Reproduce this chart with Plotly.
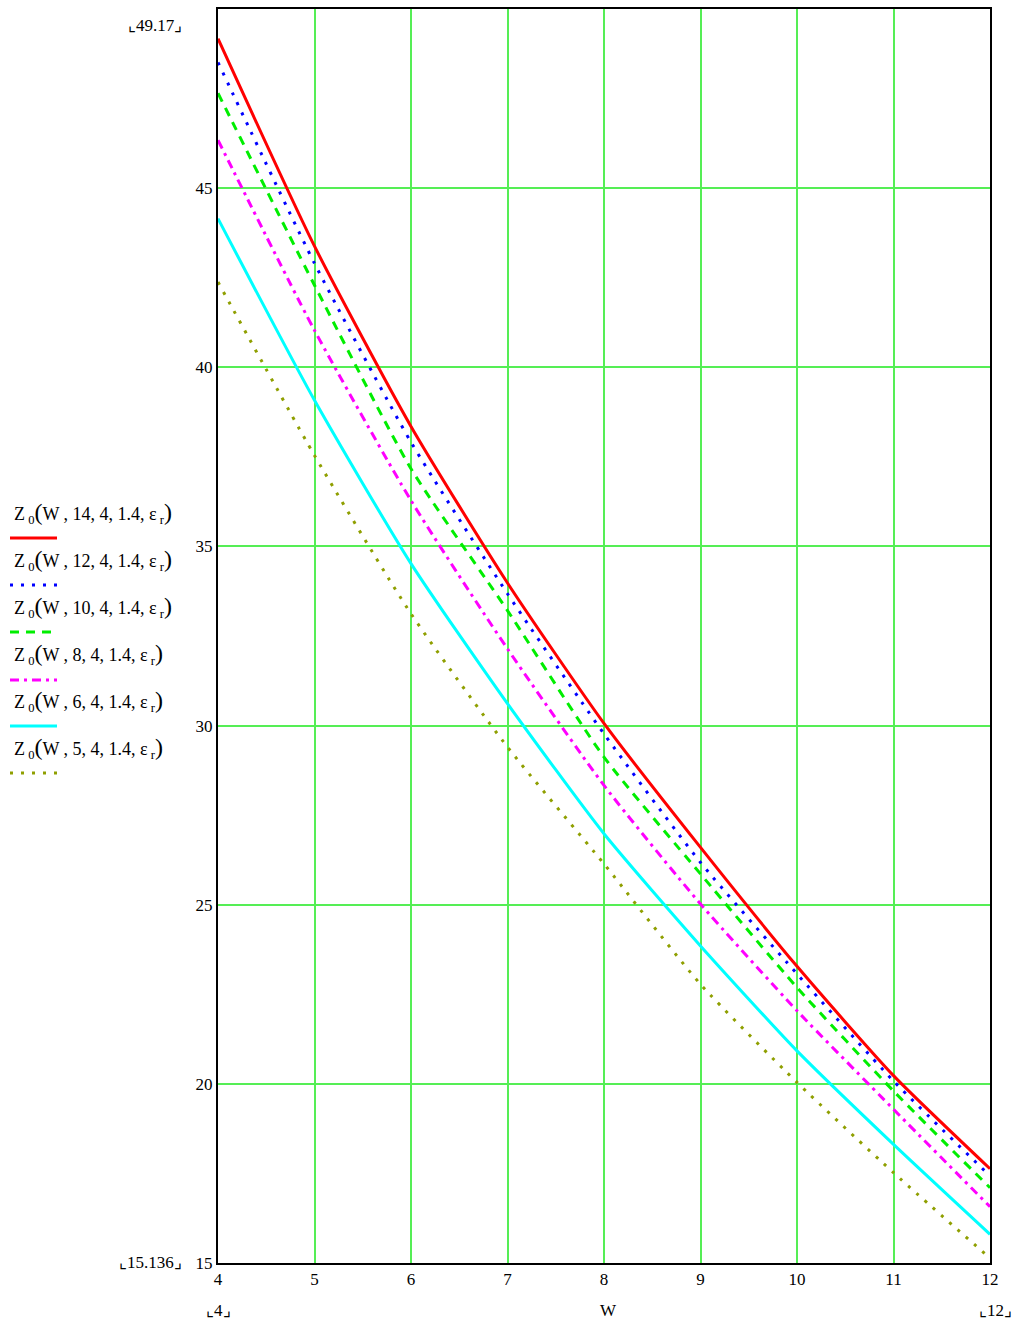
import plotly.graph_objects as go

W = [4, 5, 6, 7, 8, 9, 10, 11, 12]
z_14 = [49.17, 43.38, 38.35, 33.98, 30.06, 26.60, 23.28, 20.23, 17.63]
z_12 = [48.51, 42.90, 37.91, 33.68, 29.77, 26.18, 23.07, 20.08, 17.43]
z_10 = [47.65, 42.29, 37.17, 33.21, 29.12, 25.86, 22.69, 19.80, 17.10]
z_8 = [46.34, 41.03, 36.28, 32.14, 28.33, 25.02, 22.04, 19.29, 16.57]
z_6 = [44.15, 39.08, 34.52, 30.61, 26.98, 23.85, 20.92, 18.31, 15.80]
z_5 = [42.38, 37.54, 33.12, 29.40, 26.14, 22.78, 20.04, 17.52, 15.136]

labels = ["14", "12", "10", "8", "6", "5"]
series = [z_14, z_12, z_10, z_8, z_6, z_5]
colors = ["#ff0000", "#0000ff", "#00ee00", "#ff00ff", "#00ffff", "#8f9f00"]
dashes = ["solid", "3px,8px", "9px,7px", "9px,5px,3px,5px", "solid", "3px,8px"]
widths = [3, 3, 3, 3, 3, 3]

x_ticks = [4, 5, 6, 7, 8, 9, 10, 11, 12]
y_ticks = [15, 20, 25, 30, 35, 40, 45, 50]

FONT = "Liberation Serif"

fig = go.Figure()
for lab, ys, c, d, w in zip(labels, series, colors, dashes, widths):
    fig.add_trace(go.Scatter(x=W, y=ys, mode="lines", name=lab,
                             line=dict(color=c, dash=d, width=w, shape="spline", smoothing=0.6),
                             showlegend=False))

L, R, T, B = 218, 990, 9, 1263
def px(x):
    return (x - L) / (R - L)
def py(y):
    return (B - y) / (B - T)

annotations = []
shapes = []
text_y = [513, 560, 607, 654, 701, 748]
line_y = [538, 585, 632, 680, 726, 773]
for i, lab in enumerate(labels):
    annotations.append(dict(
        xref="paper", yref="paper", x=px(12), y=py(text_y[i]),
        xanchor="left", yanchor="middle", showarrow=False,
        text="Z<sub> 0</sub><span style='font-size:24px'>(</span>W , " + lab + ", 4, 1.4, ε<sub> r</sub><span style='font-size:24px'>)</span>",
        font=dict(family=FONT, size=18, color="black")))
    shapes.append(dict(type="line", xref="paper", yref="paper",
                       x0=px(10), x1=px(57), y0=py(line_y[i]), y1=py(line_y[i]),
                       line=dict(color=colors[i], width=3, dash=dashes[i])))

extra = [
    ("⌞49.17⌟", 155, 25),
    ("⌞15.136⌟", 150, 1262),
    ("⌞4⌟", 218, 1310),
    ("W", 608, 1310),
    ("⌞12⌟", 995, 1310),
]
for t, x, y in extra:
    annotations.append(dict(xref="paper", yref="paper", x=px(x), y=py(y),
                            xanchor="center", yanchor="middle", showarrow=False,
                            text=t, font=dict(family=FONT, size=17, color="black")))

fig.update_layout(
    width=1012, height=1323,
    margin=dict(l=L, r=1012 - R, t=T, b=1323 - B, autoexpand=False),
    plot_bgcolor="white", paper_bgcolor="white",
    font=dict(family=FONT, size=17, color="black"),
    annotations=annotations, shapes=shapes,
    xaxis=dict(range=[4, 12], tickvals=x_ticks, ticks="", showgrid=True,
               gridcolor="#55ee55", gridwidth=2, zeroline=False, automargin=False,
               showline=True, linecolor="black", linewidth=2, mirror=True,
               tickfont=dict(family=FONT, size=17)),
    yaxis=dict(range=[15, 50], tickvals=y_ticks, ticks="", showgrid=True,
               gridcolor="#55ee55", gridwidth=2, zeroline=False, automargin=False,
               showline=True, linecolor="black", linewidth=2, mirror=True,
               tickfont=dict(family=FONT, size=17)),
)

fig.write_html("out.html")
